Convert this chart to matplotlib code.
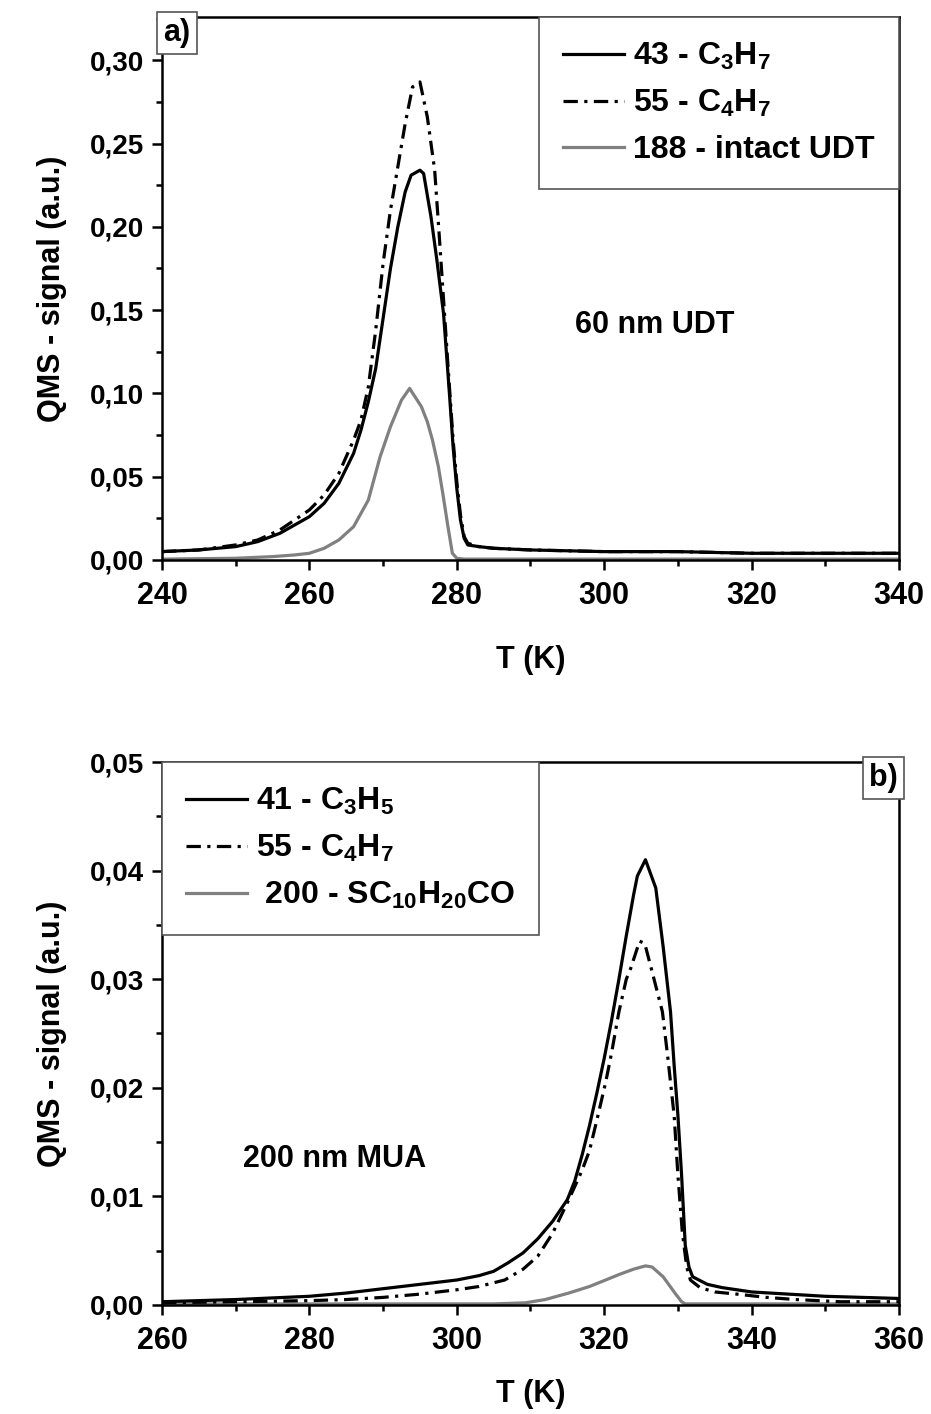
import matplotlib
matplotlib.use("Agg")
import matplotlib.pyplot as plt
from matplotlib.ticker import MultipleLocator, FuncFormatter

plt.rcParams['font.family'] = ['Liberation Sans', 'DejaVu Sans']
plt.rcParams['font.weight'] = 'bold'
plt.rcParams['mathtext.fontset'] = 'custom'
plt.rcParams['mathtext.rm'] = 'Liberation Sans:bold'
plt.rcParams['mathtext.it'] = 'Liberation Sans:bold'
plt.rcParams['mathtext.bf'] = 'Liberation Sans:bold'

# ---- a) 60 nm UDT ----
t_43 = [240, 245, 250, 253, 256, 258, 260, 262, 264, 266, 267, 268, 269, 270, 271, 272, 273,
        273.8, 275, 275.5, 276.5, 277.3, 278.2, 279, 279.5, 280, 280.5, 281, 281.5, 283,
        285, 290, 300, 310, 320, 330, 340]
s_43 = [0.005, 0.006, 0.008, 0.011, 0.016, 0.021, 0.026, 0.034, 0.046, 0.064, 0.078, 0.095,
        0.115, 0.145, 0.175, 0.200, 0.221, 0.231, 0.234, 0.232, 0.206, 0.180, 0.148, 0.100,
        0.068, 0.043, 0.024, 0.013, 0.009, 0.008, 0.007, 0.006, 0.005, 0.005, 0.004, 0.004, 0.004]

t_55a = [240, 245, 250, 253, 256, 258, 260, 262, 264, 266, 267, 268, 269, 270, 271, 272, 273,
         274, 275, 276, 277, 277.6, 278.3, 279, 279.5, 280, 280.5, 281, 281.5, 283, 285, 290,
         300, 310, 320, 330, 340]
s_55a = [0.005, 0.006, 0.009, 0.012, 0.018, 0.024, 0.030, 0.039, 0.052, 0.072, 0.084, 0.104,
         0.138, 0.178, 0.210, 0.236, 0.262, 0.284, 0.287, 0.266, 0.234, 0.196, 0.150, 0.104,
         0.072, 0.047, 0.027, 0.014, 0.010, 0.008, 0.007, 0.006, 0.005, 0.005, 0.004, 0.004, 0.004]

t_188 = [240, 250, 255, 258, 260, 262, 264, 266, 268, 269.6, 271, 272.5, 273.6, 275.2, 276,
         276.7, 277.5, 278.1, 278.8, 279.4, 280, 281, 290, 340]
s_188 = [0.0005, 0.001, 0.002, 0.003, 0.004, 0.007, 0.012, 0.020, 0.036, 0.062, 0.080, 0.096,
         0.103, 0.092, 0.083, 0.072, 0.056, 0.040, 0.020, 0.004, 0.001, 0.0005, 0.0005, 0.0005]

# ---- b) 200 nm MUA ----
t_41 = [260, 270, 280, 285, 290, 295, 300, 303, 305, 307, 309, 311, 313, 315, 316, 317, 318,
        319, 320, 321, 322, 323, 324, 324.5, 325.6, 327, 328, 329, 329.5, 330, 330.5, 331,
        331.5, 332, 334, 336, 338, 340, 345, 350, 355, 360]
s_41 = [0.0003, 0.0005, 0.0008, 0.0011, 0.0015, 0.0019, 0.0023, 0.0027, 0.0031, 0.0039,
        0.0048, 0.0061, 0.0077, 0.0097, 0.0114, 0.0138, 0.0165, 0.0195, 0.0227, 0.0262,
        0.0300, 0.0340, 0.0378, 0.0395, 0.0410, 0.0384, 0.0330, 0.0270, 0.0220, 0.0175,
        0.0120, 0.0055, 0.0035, 0.0026, 0.0019, 0.0016, 0.0014, 0.0012, 0.0010, 0.0008,
        0.0007, 0.0006]

t_55b = [260, 270, 280, 285, 290, 295, 300, 303, 306.5, 309, 311, 313, 315.2, 317, 318, 319,
         320.2, 321, 322, 323, 323.6, 324.8, 325.5, 326.5, 327.9, 328.6, 329.5, 330, 330.6,
         331.2, 331.7, 333, 335, 338, 342, 346, 352, 360]
s_55b = [0.0002, 0.0003, 0.0004, 0.0005, 0.0007, 0.0010, 0.0014, 0.0017, 0.0023, 0.0033,
         0.0045, 0.0066, 0.0097, 0.0124, 0.0142, 0.0170, 0.0205, 0.0232, 0.0270, 0.0300,
         0.0310, 0.0335, 0.0333, 0.0307, 0.0270, 0.0230, 0.0174, 0.0120, 0.0067, 0.0035,
         0.0023, 0.0016, 0.0012, 0.0010, 0.0007, 0.0005, 0.0003, 0.0003]

t_200 = [260, 300, 305, 309.3, 312, 315.2, 318, 320.2, 322, 324, 325.6, 326.5, 328, 329.6,
         330.5, 331, 335, 360]
s_200 = [0.0001, 0.0001, 0.0001, 0.0002, 0.0005, 0.0011, 0.0017, 0.0023, 0.0028, 0.0033,
         0.0036, 0.0035, 0.0026, 0.0011, 0.0003, 0.0001, 0.0001, 0.0001]

LW = 2.3
DASHDOT = (0, (4.5, 2.0, 1.0, 2.0))
GRAY = '#808080'
LEG_KW = dict(borderaxespad=0, fontsize=23, handlelength=1.9, handletextpad=0.3,
              labelspacing=0.5, borderpad=0.75, fancybox=False, framealpha=1,
              edgecolor='#555555')


def comma_fmt(ndec):
    return FuncFormatter(lambda v, p: ('%.*f' % (ndec, v)).replace('.', ','))


def style_axes(ax, xpad):
    for sp in ax.spines.values():
        sp.set_linewidth(1.8)
    ax.tick_params(which='both', direction='out', width=1.8, top=False, right=False)
    ax.tick_params(which='major', length=7)
    ax.tick_params(which='minor', length=4)
    ax.tick_params(axis='x', labelsize=22, pad=8)
    ax.tick_params(axis='y', labelsize=20, pad=6)
    ax.set_xlabel('T (K)', fontsize=22, fontweight='bold', labelpad=xpad)
    ax.set_ylabel('QMS - signal (a.u.)', fontsize=22, fontweight='bold', labelpad=16)


fig = plt.figure(figsize=(9.31, 14.14), dpi=100)

ax1 = fig.add_axes([0.174, 0.604, 0.7916, 0.384])
ax1.plot(t_188, s_188, color=GRAY, lw=LW, label='188 - intact UDT', zorder=2)
ax1.plot(t_55a, s_55a, color='black', lw=LW, ls=DASHDOT, label=r'55 - $\mathrm{C_4H_7}$', zorder=3)
ax1.plot(t_43, s_43, color='black', lw=LW, label=r'43 - $\mathrm{C_3H_7}$', zorder=4)
ax1.set_xlim(240, 340)
ax1.set_ylim(0, 0.326)
ax1.xaxis.set_major_locator(MultipleLocator(20))
ax1.xaxis.set_minor_locator(MultipleLocator(10))
ax1.yaxis.set_major_locator(MultipleLocator(0.05))
ax1.yaxis.set_minor_locator(MultipleLocator(0.025))
ax1.yaxis.set_major_formatter(comma_fmt(2))
style_axes(ax1, 25)
h, l = ax1.get_legend_handles_labels()
leg1 = ax1.legend(h[::-1], l[::-1], loc='upper right', **LEG_KW)
leg1.get_frame().set_linewidth(1.2)
ax1.text(296.0, 0.141, '60 nm UDT', fontsize=22, fontweight='bold', va='center')
ax1.text(0.002, 0.998, 'a)', transform=ax1.transAxes, fontsize=22, fontweight='bold',
         ha='left', va='top',
         bbox=dict(boxstyle='square,pad=0.2', fc='white', ec='#555555', lw=1.2))

ax2 = fig.add_axes([0.174, 0.0771, 0.7916, 0.384])
ax2.plot(t_200, s_200, color=GRAY, lw=LW, label=r' 200 - $\mathrm{SC_{10}H_{20}CO}$', zorder=2)
ax2.plot(t_55b, s_55b, color='black', lw=LW, ls=DASHDOT, label=r'55 - $\mathrm{C_4H_7}$', zorder=3)
ax2.plot(t_41, s_41, color='black', lw=LW, label=r'41 - $\mathrm{C_3H_5}$', zorder=4)
ax2.set_xlim(260, 360)
ax2.set_ylim(0, 0.05)
ax2.xaxis.set_major_locator(MultipleLocator(20))
ax2.xaxis.set_minor_locator(MultipleLocator(10))
ax2.yaxis.set_major_locator(MultipleLocator(0.01))
ax2.yaxis.set_minor_locator(MultipleLocator(0.005))
ax2.yaxis.set_major_formatter(comma_fmt(2))
style_axes(ax2, 17)
h, l = ax2.get_legend_handles_labels()
leg2 = ax2.legend(h[::-1], l[::-1], loc='upper left', **LEG_KW)
leg2.get_frame().set_linewidth(1.2)
ax2.text(271.0, 0.0134, '200 nm MUA', fontsize=22, fontweight='bold', va='center')
ax2.text(0.998, 0.998, 'b)', transform=ax2.transAxes, fontsize=22, fontweight='bold',
         ha='right', va='top',
         bbox=dict(boxstyle='square,pad=0.2', fc='white', ec='#555555', lw=1.2))

fig.savefig('out.png', dpi=100)
